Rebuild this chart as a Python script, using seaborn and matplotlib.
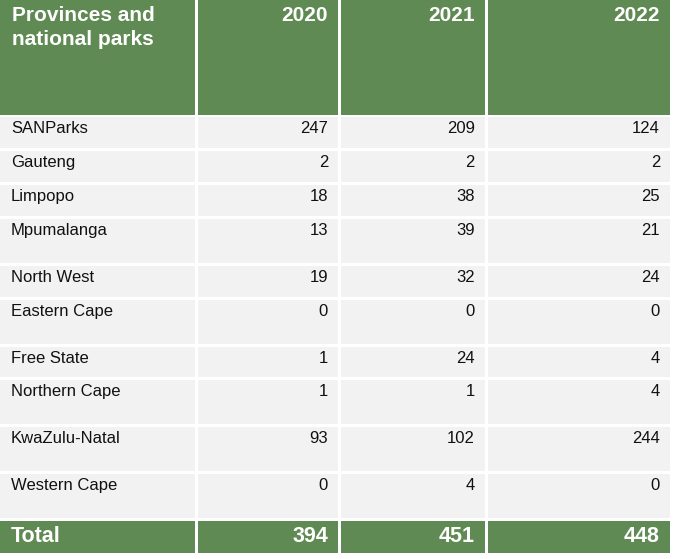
import pandas as pd
import seaborn as sns
from matplotlib import pyplot as plt

# table contents
regions = ['SANParks', 'Gauteng', 'Limpopo', 'Mpumalanga', 'North West',
           'Eastern Cape', 'Free State', 'Northern Cape', 'KwaZulu-Natal',
           'Western Cape']
years = ['2020', '2021', '2022']
v2020 = [247, 2, 18, 13, 19, 0, 1, 1, 93, 0]
v2021 = [209, 2, 38, 39, 32, 0, 24, 1, 102, 4]
v2022 = [124, 2, 25, 21, 24, 0, 4, 4, 244, 0]

data = pd.DataFrame({'Region': regions, '2020': v2020, '2021': v2021, '2022': v2022})
totals = data[years].sum()

# layout (pixels)
col_left = [0, 198, 341, 488]
col_right = [195, 338, 485, 670]
row_heights = [31, 31, 31, 44, 31, 44, 30, 44, 44, 44]
gap = 3
header_h = 115
total_h = 32

green = '#608a53'
grey = '#f2f2f2'

sns.set_style('white')
plt.rcParams['font.family'] = ['Liberation Sans', 'DejaVu Sans']

fig = plt.figure(figsize=(6.73, 5.59), dpi=100)
ax = fig.add_axes([0, 0, 1, 1])
ax.set_xlim(0, 673)
ax.set_ylim(559, 0)
ax.axis('off')

# header
for c in range(4):
    ax.bar(col_left[c], header_h, width=col_right[c] - col_left[c], bottom=0,
           align='edge', color=green, linewidth=0)
ax.text(12, 21, 'Provinces and', ha='left', va='baseline', color='white',
        fontsize=15, fontweight='bold')
ax.text(12, 45, 'national parks', ha='left', va='baseline', color='white',
        fontsize=15, fontweight='bold')
for c, yr in enumerate(years, start=1):
    ax.text(col_right[c] - 10, 21, yr, ha='right', va='baseline', color='white',
            fontsize=15, fontweight='bold')

# body rows
top = header_h + 2
for i, row in data.iterrows():
    h = row_heights[i]
    for c in range(4):
        ax.bar(col_left[c], h, width=col_right[c] - col_left[c], bottom=top,
               align='edge', color=grey, linewidth=0)
    ax.text(11, top + 16, row['Region'], ha='left', va='baseline', color='#111111',
            fontsize=12)
    for c, yr in enumerate(years, start=1):
        ax.text(col_right[c] - 10, top + 16, str(row[yr]), ha='right', va='baseline',
                color='#111111', fontsize=12)
    top += h + gap

# total row
for c in range(4):
    ax.bar(col_left[c], total_h, width=col_right[c] - col_left[c], bottom=top,
           align='edge', color=green, linewidth=0)
ax.text(11, top + 21, 'Total', ha='left', va='baseline', color='white',
        fontsize=15.5, fontweight='bold')
for c, yr in enumerate(years, start=1):
    ax.text(col_right[c] - 10, top + 21, str(totals[yr]), ha='right', va='baseline',
            color='white', fontsize=15.5, fontweight='bold')

fig.savefig('out.png', dpi=100)
